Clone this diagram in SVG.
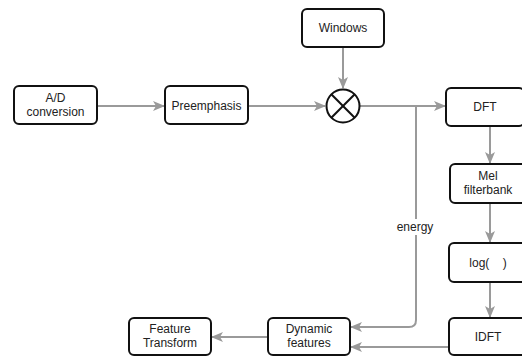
<svg xmlns="http://www.w3.org/2000/svg" width="522" height="356" viewBox="0 0 522 356">
<style>
.box{fill:#fff;stroke:#111;stroke-width:2}
.t{font-family:"Liberation Sans",Arial,sans-serif;font-size:12px;fill:#222;text-anchor:middle}
.c{fill:none;stroke:#9a9a9a;stroke-width:2}
</style>
<defs>
<marker id="ah" viewBox="0 0 12 10" refX="11" refY="5" markerWidth="12" markerHeight="10" markerUnits="userSpaceOnUse" orient="auto">
<path d="M0,0 L12,5 L0,10 L3,5 Z" fill="#9a9a9a"/>
</marker>
</defs>
<rect width="522" height="356" fill="#fff"/>
<g id="connectors">
<line class="c" x1="97" y1="106" x2="164" y2="106" marker-end="url(#ah)"/>
<line class="c" x1="248" y1="106" x2="325" y2="106" marker-end="url(#ah)"/>
<line class="c" x1="343" y1="47" x2="343" y2="88" marker-end="url(#ah)"/>
<line class="c" x1="360" y1="106" x2="445" y2="106" marker-end="url(#ah)"/>
<line class="c" x1="490" y1="126" x2="490" y2="163" marker-end="url(#ah)"/>
<line class="c" x1="490" y1="203" x2="490" y2="242" marker-end="url(#ah)"/>
<line class="c" x1="490" y1="282" x2="490" y2="317" marker-end="url(#ah)"/>
<path class="c" d="M416,106 V320 Q416,327 409,327 H351" marker-end="url(#ah)"/>
<line class="c" x1="449" y1="347" x2="351" y2="347" marker-end="url(#ah)"/>
<line class="c" x1="268" y1="337" x2="212" y2="337" marker-end="url(#ah)"/>
<rect x="394" y="219" width="44" height="16" fill="#fff"/>
<text class="t" x="415" y="231">energy</text>
</g>
<g id="ad"><rect class="box" x="14" y="86" width="83" height="38" rx="5"/><text class="t" x="55.5" y="102">A/D</text><text class="t" x="55.5" y="116">conversion</text></g>
<g id="preemphasis"><rect class="box" x="165" y="86" width="83" height="38" rx="5"/><text class="t" x="206.5" y="110">Preemphasis</text></g>
<g id="windows"><rect class="box" x="302" y="9" width="82" height="38" rx="5"/><text class="t" x="343" y="32">Windows</text></g>
<g id="multiply"><circle cx="343" cy="106" r="16.5" fill="#fff" stroke="#111" stroke-width="2"/><line x1="331.3" y1="94.3" x2="354.7" y2="117.7" stroke="#111" stroke-width="2"/><line x1="354.7" y1="94.3" x2="331.3" y2="117.7" stroke="#111" stroke-width="2"/></g>
<g id="dft"><rect class="box" x="446" y="88" width="78" height="38" rx="5"/><text class="t" x="485" y="111">DFT</text></g>
<g id="mel"><rect class="box" x="450" y="164" width="76" height="39" rx="5"/><text class="t" x="488" y="180">Mel</text><text class="t" x="488" y="194">filterbank</text></g>
<g id="log"><rect class="box" x="449" y="243" width="77" height="39" rx="5"/><text class="t" x="488" y="267">log(&#160;&#160;&#160;&#160;)</text></g>
<g id="idft"><rect class="box" x="449" y="318" width="77" height="37" rx="5"/><text class="t" x="488" y="341">IDFT</text></g>
<g id="dynamic"><rect class="box" x="268" y="318" width="82" height="37" rx="5"/><text class="t" x="309" y="333">Dynamic</text><text class="t" x="309" y="347">features</text></g>
<g id="transform"><rect class="box" x="129" y="318" width="82" height="37" rx="5"/><text class="t" x="170" y="333">Feature</text><text class="t" x="170" y="347">Transform</text></g>
</svg>
